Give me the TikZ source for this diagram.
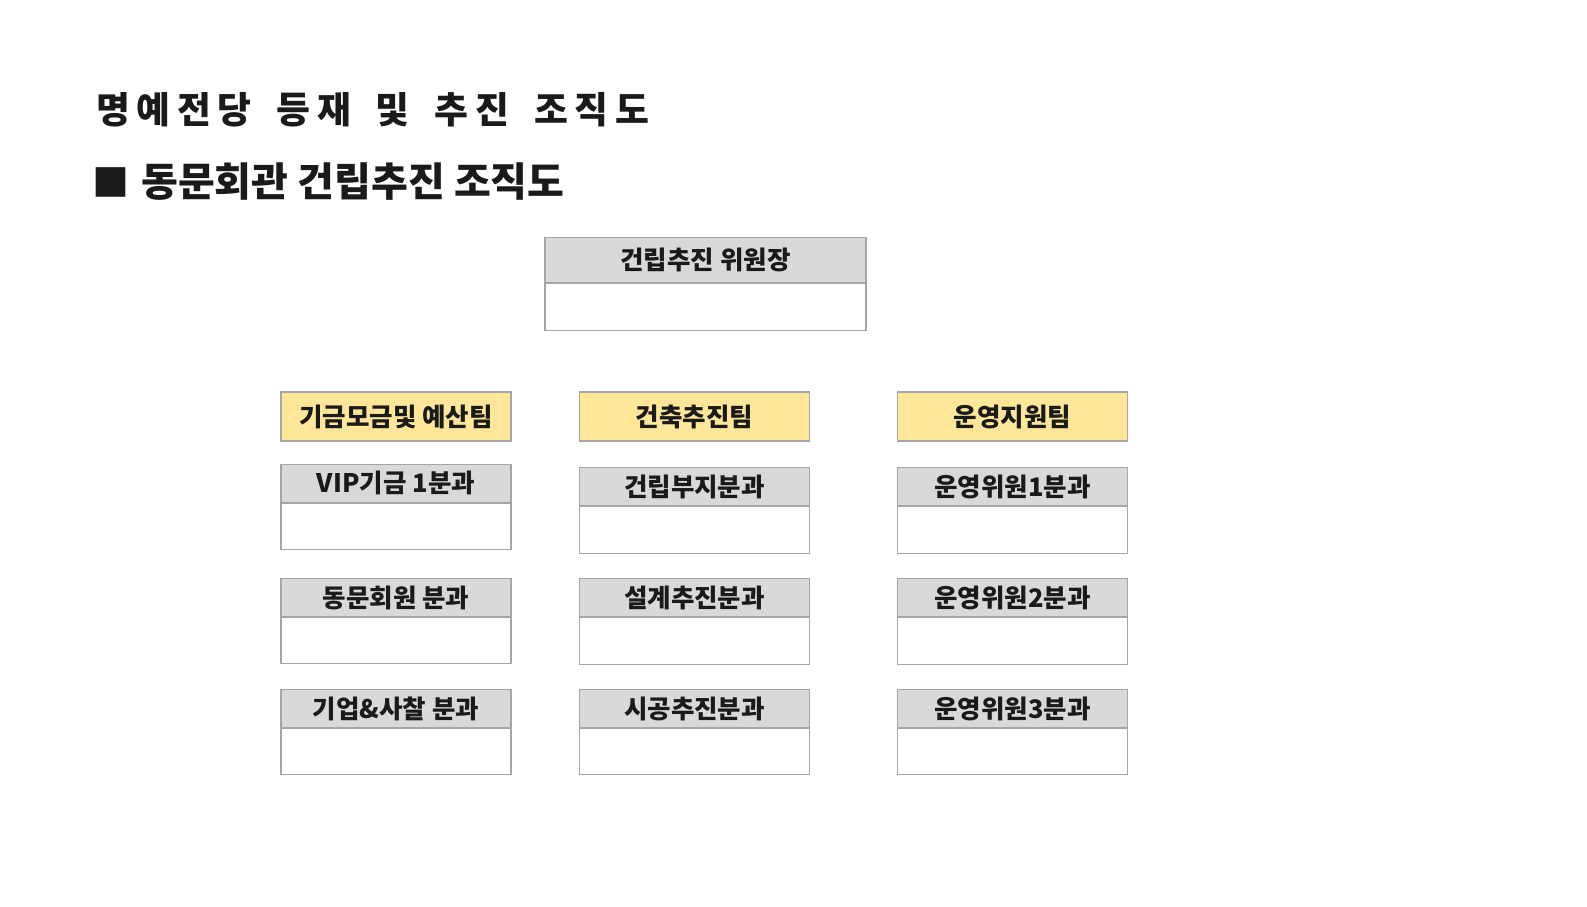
\documentclass[tikz,border=0pt]{standalone}
\usepackage{fontspec}
\setmainfont{Noto Sans CJK KR}
\definecolor{hdrgray}{HTML}{D9D9D9}
\definecolor{teamyellow}{HTML}{FFE699}
\definecolor{bordergray}{HTML}{A6A6A6}
\definecolor{txt}{HTML}{1A1A1A}
\tikzset{
  hdr/.style={draw=bordergray, line width=1.2pt, fill=hdrgray, inner sep=0pt, anchor=north,
    font=\bfseries\fontsize{25.5}{30}\selectfont, text=txt},
  bodybox/.style={draw=bordergray, line width=1.2pt, fill=white, inner sep=0pt, anchor=north},
  team/.style={draw=bordergray, line width=1.2pt, fill=teamyellow, inner sep=0pt,
    minimum width=230pt, minimum height=49pt, font=\bfseries\fontsize{25.5}{30}\selectfont, text=txt},
  col/.style={minimum width=230pt},
  titlefont/.style={font=\bfseries\fontsize{36.8}{42}\selectfont, text=txt, inner sep=0pt, anchor=west},
}
\begin{document}
\begin{tikzpicture}[x=1pt,y=-1pt]
\useasboundingbox[fill=white] (0,0) rectangle (1587,907);
% titles
\node[titlefont] (title) at (96,110) {\addfontfeature{LetterSpace=18}명예전당\hspace{10pt} 등재\hspace{10pt} 및\hspace{10pt} 추진\hspace{10pt} 조직도};
\node[titlefont, font=\bfseries\fontsize{40}{44}\selectfont] (subtitle) at (92,182) {{\fontsize{37}{40}\selectfont■}\hspace{3pt} 동문회관 건립추진 조직도};
% top
\node[hdr, minimum width=321pt, minimum height=45pt] (toph) at (705.5,237) {건립추진 위원장};
\node[bodybox, minimum width=321pt, minimum height=47pt] (topb) at (toph.south) {};
% teams
\node[team] (t1) at (396,416.5) {기금모금및 예산팀};
\node[team] (t2) at (694.5,416.5) {건축추진팀};
\node[team] (t3) at (1012.5,416.5) {운영지원팀};
% left column
\node[hdr, col, minimum height=38pt] (l1h) at (396,463.5) {VIP기금 1분과};
\node[bodybox, col, minimum height=46.5pt] (l1b) at (l1h.south) {};
\node[hdr, col, minimum height=38pt] (l2h) at (396,578) {동문회원 분과};
\node[bodybox, col, minimum height=46pt] (l2b) at (l2h.south) {};
\node[hdr, col, minimum height=38pt] (l3h) at (396,689) {기업\&사찰 분과};
\node[bodybox, col, minimum height=46pt] (l3b) at (l3h.south) {};
% middle column
\node[hdr, col, minimum height=38pt] (m1h) at (694.5,467) {건립부지분과};
\node[bodybox, col, minimum height=47pt] (m1b) at (m1h.south) {};
\node[hdr, col, minimum height=38pt] (m2h) at (694.5,578) {설계추진분과};
\node[bodybox, col, minimum height=47pt] (m2b) at (m2h.south) {};
\node[hdr, col, minimum height=38pt] (m3h) at (694.5,689) {시공추진분과};
\node[bodybox, col, minimum height=46pt] (m3b) at (m3h.south) {};
% right column
\node[hdr, col, minimum height=38pt] (r1h) at (1012.5,467) {운영위원1분과};
\node[bodybox, col, minimum height=47pt] (r1b) at (r1h.south) {};
\node[hdr, col, minimum height=38pt] (r2h) at (1012.5,578) {운영위원2분과};
\node[bodybox, col, minimum height=47pt] (r2b) at (r2h.south) {};
\node[hdr, col, minimum height=38pt] (r3h) at (1012.5,689) {운영위원3분과};
\node[bodybox, col, minimum height=46pt] (r3b) at (r3h.south) {};
\end{tikzpicture}
\end{document}
